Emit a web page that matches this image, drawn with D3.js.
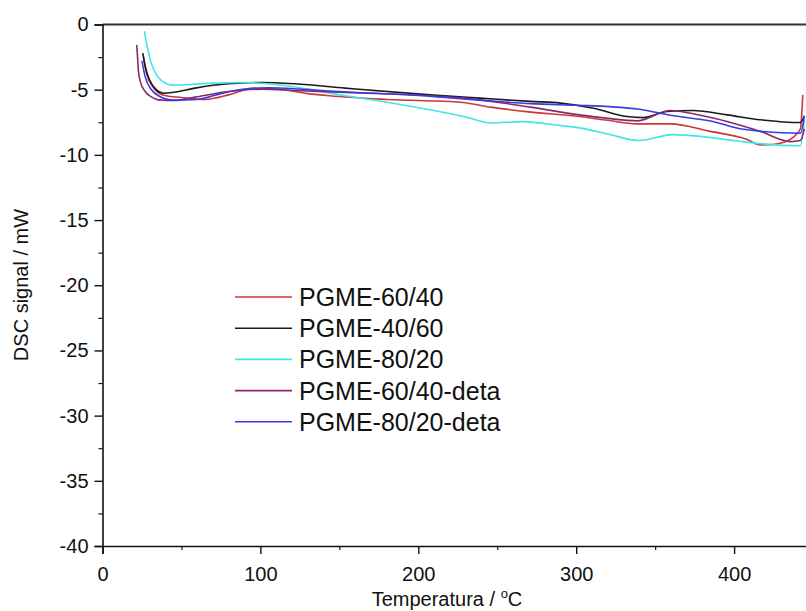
<!DOCTYPE html>
<html><head><meta charset="utf-8">
<script src="https://cdn.jsdelivr.net/npm/d3@7"></script>
<style>body{margin:0;background:#fff;overflow:hidden}svg{display:block}text{font-family:Arial,"Liberation Sans",sans-serif;fill:#111}</style>
</head><body><svg id="c" width="806" height="611"></svg>
<script>
const seriesNames = ["PGME-60/40","PGME-40/60","PGME-80/20","PGME-60/40-deta","PGME-80/20-deta"];
const seriesColors = ["#c8383c","#1a1a1a","#3fe6e6","#8a2a6a","#3a3ae0"];
const xTicks = [0,100,200,300,400];
const yTicks = [0,-5,-10,-15,-20,-25,-30,-35,-40];

const t6040 = [26,28,32,38,50,65,80,95,110,130,144,180,228,246,270,302,320,338.5,359.6,385,408,416.7,427,437.6,442,443.5];
const v6040 = [-2.5,-3.8,-4.8,-5.4,-5.6,-5.75,-5.4,-4.9,-4.95,-5.3,-5.47,-5.75,-5.98,-6.34,-6.7,-7.06,-7.35,-7.62,-7.62,-8.2,-8.8,-9.23,-9.16,-8.64,-8.0,-5.4];
const t4060 = [25.5,27,30,34,38.5,45,58.6,79.5,101,122,153.7,207.5,239,271,290,311,332,342.5,357.5,374,395.5,416.7,442,444.5];
const v4060 = [-2.2,-3.2,-4.3,-5.0,-5.27,-5.2,-4.88,-4.55,-4.45,-4.55,-4.88,-5.4,-5.65,-5.9,-6.03,-6.42,-7.06,-7.14,-6.67,-6.6,-6.93,-7.31,-7.52,-7.0];
const t8020 = [26.5,28,31,35,40,45,55,70,90,110,130,153,182,210,230,246,266,290,303,320,340,361,380,400,417,442,444.5];
const v8020 = [-0.5,-1.5,-3.0,-4.0,-4.5,-4.65,-4.6,-4.5,-4.45,-4.6,-4.95,-5.45,-6.0,-6.6,-7.1,-7.55,-7.45,-7.75,-7.95,-8.4,-8.9,-8.45,-8.6,-8.9,-9.15,-9.3,-7.3];
const t6040d = [21.7,22.2,22.7,24,27,31,35.4,46,58.6,79.7,101,122,153.7,207,239,271,302,320,338.5,359.6,374,395.5,416.7,435.7,442,444.5];
const v6040d = [-1.56,-2.5,-3.5,-4.4,-5.14,-5.55,-5.78,-5.83,-5.57,-5.14,-4.96,-5.06,-5.22,-5.47,-5.78,-6.34,-6.93,-7.2,-7.39,-6.6,-6.85,-7.44,-8.2,-8.98,-8.9,-8.0];
const t8020d = [25,27,31,36,45,60,75,90,105,125,144,207,239,271,302,321,340,359.6,385,406,442,444.5];
const v8020d = [-2.8,-4.0,-5.0,-5.5,-5.8,-5.75,-5.3,-4.95,-4.85,-4.95,-5.1,-5.5,-5.8,-6.07,-6.2,-6.3,-6.5,-6.96,-7.4,-8.04,-8.34,-7.0];

const seriesT = [t6040,t4060,t8020,t6040d,t8020d];
const seriesV = [v6040,v4060,v8020,v6040d,v8020d];

const svg = d3.select("#c");
const x = d3.scaleLinear().domain([0,450]).range([102.5, 102.5+450*1.579]);
const y = d3.scaleLinear().domain([-40,0]).range([546,24.5]);

// frame top line
svg.append("line").attr("x1",x(0)).attr("x2",806).attr("y1",y(0)).attr("y2",y(0)).attr("stroke","#333").attr("stroke-width",2);

// axes
const xAxis = d3.axisBottom(x).tickValues(xTicks).tickSize(8).tickPadding(13).tickFormat(d=>String(d));
const gx = svg.append("g").attr("transform",`translate(0,${y(-40)})`).call(xAxis);
gx.select(".domain").attr("stroke","#111").attr("stroke-width",1.6);
gx.selectAll(".tick line").attr("stroke","#111").attr("stroke-width",1.4);
gx.selectAll("text").style("font-size","20px").attr("fill","#111");
const gxm = svg.append("g").attr("transform",`translate(0,${y(-40)})`).call(d3.axisBottom(x).tickValues([50,150,250,350]).tickSize(4).tickFormat(""));
gxm.select(".domain").remove();
gxm.selectAll(".tick line").attr("stroke","#111").attr("stroke-width",1.2);

const yAxis = d3.axisLeft(y).tickValues(yTicks).tickSize(8).tickPadding(6).tickFormat(d=>String(d));
const gy = svg.append("g").attr("transform",`translate(${x(0)},0)`).call(yAxis);
gy.select(".domain").attr("stroke","#111").attr("stroke-width",1.6);
gy.selectAll(".tick line").attr("stroke","#111").attr("stroke-width",1.4);
gy.selectAll("text").style("font-size","20px").attr("fill","#111");
const gym = svg.append("g").attr("transform",`translate(${x(0)},0)`).call(d3.axisLeft(y).tickValues(d3.range(-37.5,0,5)).tickSize(4).tickFormat(""));
gym.select(".domain").remove();
gym.selectAll(".tick line").attr("stroke","#111").attr("stroke-width",1.2);

// axis titles
svg.append("text").attr("transform",`translate(28,285) rotate(-90)`).attr("text-anchor","middle").style("font-size","20px").text("DSC signal / mW");
const xt = svg.append("text").attr("x",447).attr("y",606).attr("text-anchor","middle").style("font-size","20px");
xt.append("tspan").text("Temperatura / ");
xt.append("tspan").attr("dy",-8).style("font-size","13px").text("o");
xt.append("tspan").attr("dy",8).text("C");

// curves
const line = d3.line().x(d=>x(d[0])).y(d=>y(d[1])).curve(d3.curveMonotoneX);
const plot = svg.append("g");
seriesT.forEach((ts,i)=>{
  const pts = ts.map((t,j)=>[t,seriesV[i][j]]);
  plot.append("path").datum(pts).attr("d",line).attr("fill","none").attr("stroke",seriesColors[i]).attr("stroke-width",1.6);
});

// legend
const lg = svg.append("g");
seriesNames.forEach((n,i)=>{
  const yy = 297 + i*31.2;
  lg.append("line").attr("x1",235).attr("x2",292).attr("y1",yy).attr("y2",yy).attr("stroke",seriesColors[i]).attr("stroke-width",1.6);
  lg.append("text").attr("x",299).attr("y",yy+9).style("font-size","25px").text(n);
});
</script></body></html>
